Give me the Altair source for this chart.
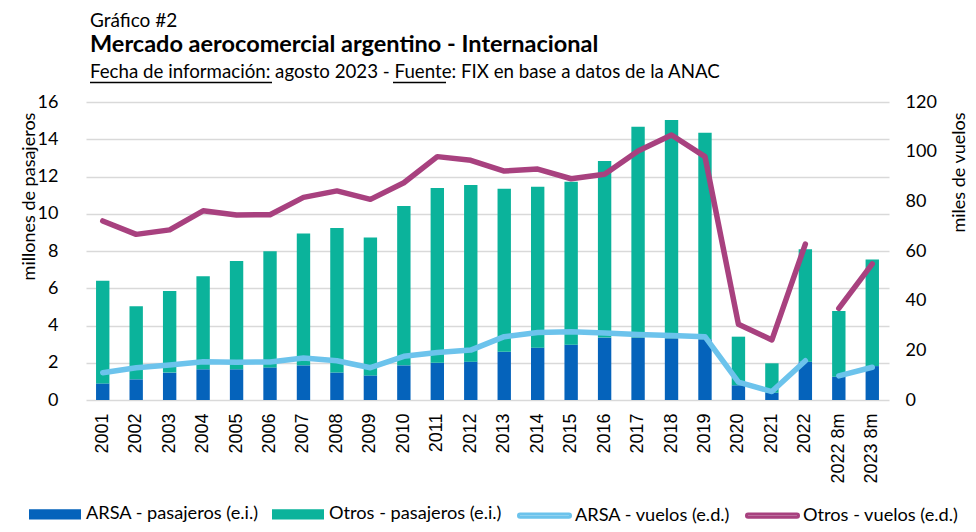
import altair as alt
import pandas as pd

# ---- data ----
years = ["2001", "2002", "2003", "2004", "2005", "2006", "2007", "2008", "2009", "2010",
         "2011", "2012", "2013", "2014", "2015", "2016", "2017", "2018", "2019", "2020",
         "2021", "2022", "2022 8m", "2023 8m"]
arsa_pax = [0.89, 1.11, 1.47, 1.65, 1.65, 1.75, 1.86, 1.48, 1.32, 1.86,
            2.00, 2.06, 2.59, 2.81, 2.97, 3.35, 3.35, 3.31, 3.26, 0.79,
            0.39, 2.06, 1.25, 1.82]
otros_pax = [5.51, 3.93, 4.38, 4.99, 5.81, 6.23, 7.08, 7.75, 7.41, 8.55,
             9.38, 9.48, 8.75, 8.64, 8.75, 9.48, 11.32, 11.72, 11.09, 2.61,
             1.58, 6.04, 3.53, 5.73]
arsa_vuelos = [11.0, 13.0, 14.1, 15.4, 15.2, 15.3, 16.9, 15.8, 13.0, 17.6,
               19.1, 20.1, 25.5, 27.2, 27.5, 27.0, 26.4, 26.0, 25.5, 7.2,
               3.4, 15.8, 9.7, 13.2]
otros_vuelos = [72.1, 66.7, 68.5, 76.2, 74.5, 74.6, 81.6, 84.2, 80.8, 87.5,
                98.0, 96.5, 92.2, 93.0, 89.1, 90.9, 100.3, 106.7, 98.0, 30.5,
                24.2, 62.8, 36.9, 54.8]
tramo = ["anual"] * 22 + ["8 meses"] * 2

pax_series = ["ARSA - pasajeros (e.i.)", "Otros - pasajeros (e.i.)"]
fl_series = ["ARSA - vuelos (e.d.)", "Otros - vuelos (e.d.)"]
pax_colors = ["#0563bb", "#0bb39b"]
fl_colors = ["#6cc3ec", "#a8417f"]

left_ticks = [0, 2, 4, 6, 8, 10, 12, 14, 16]
right_ticks = [0, 20, 40, 60, 80, 100, 120]

kicker = "Gráfico #2"
title_txt = "Mercado aerocomercial argentino - Internacional"
subtitle_txt = "Fecha de información: agosto 2023 - Fuente: FIX en base a datos de la ANAC"

# ---- tables ----
bars_df = pd.DataFrame({
    "anio": years + years,
    "serie": [pax_series[0]] * len(years) + [pax_series[1]] * len(years),
    "valor": arsa_pax + otros_pax,
    "orden": [0] * len(years) + [1] * len(years),
})
lines_df = pd.DataFrame({
    "anio": years + years,
    "serie": [fl_series[0]] * len(years) + [fl_series[1]] * len(years),
    "valor": arsa_vuelos + otros_vuelos,
    "tramo": tramo + tramo,
})

FONT = "Lato"
LEG_FS = 18.2
x_enc = alt.X(
    "anio:N", sort=years,
    scale=alt.Scale(paddingInner=0.6, paddingOuter=0.3),
    axis=alt.Axis(title=None, labelAngle=-90, labelFont="Liberation Sans",
                  labelFontSize=18, labelPadding=13, ticks=False, tickSize=0,
                  domain=False, labelColor="black"),
)

rect_path = "M-1,-0.2H1V0.2H-1Z"
capsule_path = "M-0.94,-0.06H0.94A0.06,0.06 0 0 1 0.94,0.06H-0.94A0.06,0.06 0 0 1 -0.94,-0.06Z"

bars = alt.Chart(bars_df).mark_bar().encode(
    x=x_enc,
    y=alt.Y("valor:Q", stack="zero",
            scale=alt.Scale(domain=[0, 16], nice=False),
            axis=alt.Axis(orient="left", values=left_ticks, grid=True,
                          gridColor="#d9d9d9", gridWidth=1.5, domain=False,
                          ticks=False, tickSize=0, labelFont=FONT, labelFontSize=18,
                          labelPadding=28, labelColor="black",
                          title="millones de pasajeros", titleFont=FONT,
                          titleFontSize=18, titleFontWeight="normal",
                          titleColor="black", titleAngle=270, titleX=-52,
                          titleY=94, titleAlign="center",
                          titleBaseline="alphabetic")),
    fill=alt.Fill("serie:N",
                  scale=alt.Scale(domain=pax_series, range=pax_colors),
                  legend=alt.Legend(title=None, orient="none", legendX=-57,
                                    legendY=386, direction="horizontal",
                                    symbolType=rect_path, symbolSize=2704,
                                    symbolStrokeWidth=0, labelFont=FONT,
                                    labelFontSize=LEG_FS, labelColor="black",
                                    labelLimit=400,
                                    labelOffset=5, columnPadding=13, padding=0)),
    order=alt.Order("orden:Q"),
)

lines = alt.Chart(lines_df).mark_line(strokeWidth=5.5, strokeCap="round",
                                      strokeJoin="round").encode(
    x=x_enc,
    y=alt.Y("valor:Q",
            scale=alt.Scale(domain=[0, 120], nice=False),
            axis=alt.Axis(orient="right", values=right_ticks, grid=False,
                          domain=False, ticks=False, tickSize=0, labelFont=FONT,
                          labelFontSize=18, labelPadding=16, labelColor="black",
                          title="miles de vuelos", titleFont=FONT,
                          titleFontSize=18, titleFontWeight="normal",
                          titleColor="black", titleAngle=270, titleX=75,
                          titleY=70, titleAlign="center",
                          titleBaseline="alphabetic")),
    stroke=alt.Stroke("serie:N",
                      scale=alt.Scale(domain=fl_series, range=fl_colors),
                      legend=alt.Legend(title=None, orient="none", legendX=431,
                                        legendY=386, direction="horizontal",
                                        symbolType=capsule_path, symbolSize=2704,
                                        symbolStrokeWidth=3, labelFont=FONT,
                                        labelFontSize=LEG_FS, labelColor="black",
                                        labelLimit=400,
                                        labelOffset=3, columnPadding=9,
                                        padding=0)),
    detail="tramo:N",
)


def label(txt, y, size, weight="normal"):
    return alt.Chart(pd.DataFrame({"t": [txt]})).mark_text(
        align="left", baseline="alphabetic", font=FONT, fontSize=size,
        fontWeight=weight, color="black",
    ).encode(text="t:N", x=alt.value(4), y=alt.value(y))


def underline(x1, x2):
    return alt.Chart(pd.DataFrame({"t": [0]})).mark_rule(
        color="black", strokeWidth=1.5
    ).encode(x=alt.value(x1), x2=alt.value(x2), y=alt.value(-19.5))


chart = alt.layer(
    bars, lines,
    label(kicker, -75, 19),
    label(title_txt, -50, 23.5, "bold"),
    label(subtitle_txt, -24, 18.7),
    underline(4, 186),
    underline(307, 360),
).resolve_scale(
    y="independent", fill="independent", stroke="independent"
).properties(
    width=803, height=298,
    autosize=alt.AutoSizeParams(type="none"),
    padding={"left": 78, "top": 94, "right": 79, "bottom": 124},
    background="white",
).configure_view(stroke=None)

chart.save("out.html", embed_options={"renderer": "svg", "actions": False})
